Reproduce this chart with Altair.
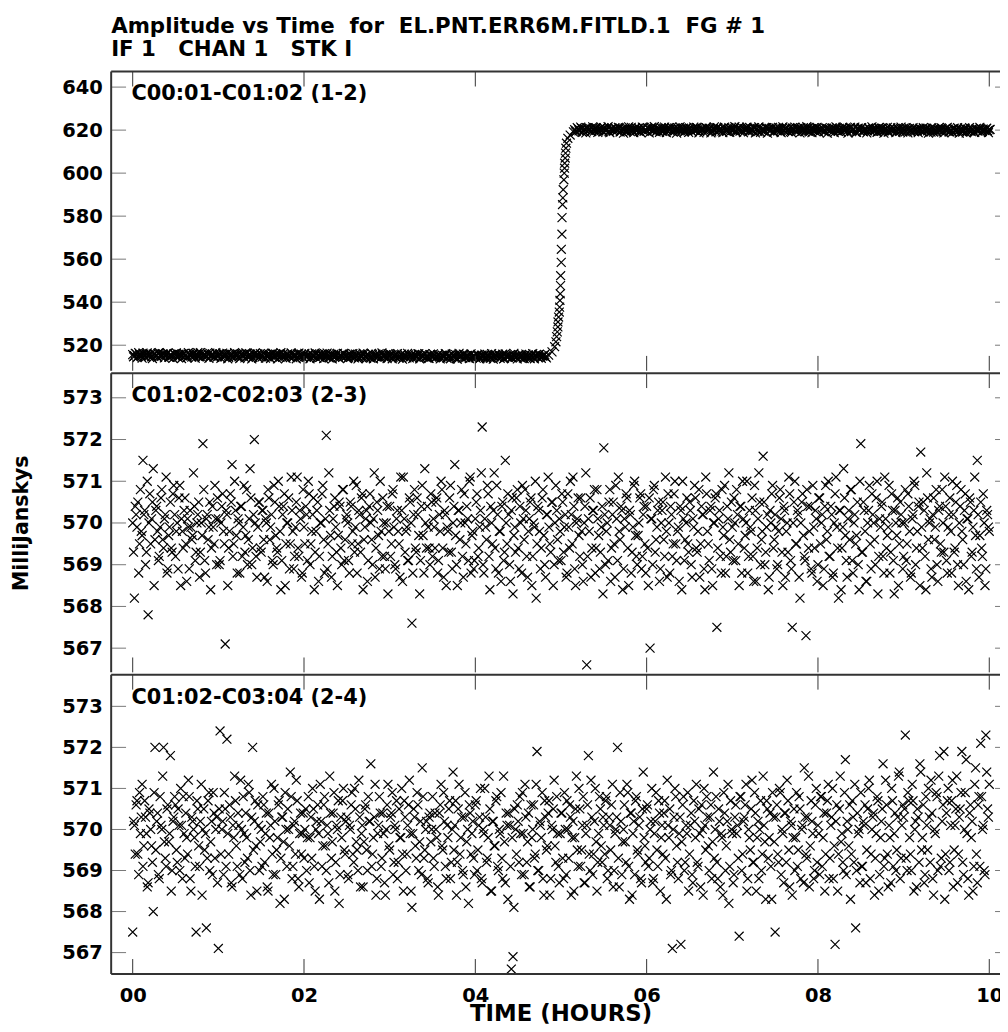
import altair as alt
import pandas as pd

# ---------------- data ----------------
STEP_H = 0.02          # sampling interval of each listed series, hours
OFFSET_B = 0.01        # second interleaved series starts half a step later

# Panel 1: C00:01-C01:02 (1-2)  -- amplitude step near 5 h
P1_PRE_BASE = 515.0    # mJy ; deviations below are in 0.1 mJy
P1_PRE_DEV = [
    6, 1, 10, -3, 8, 4, 13, -1, 7, 2, 11, -4, 5, 9, 0, 14, 3, -2, 8, 5, 12, -5, 6, 1, 10,
    3, -3, 9, 6, 0, 12, 4, -6, 8, 2, 11, -1, 5, 15, -4, 7, 1, 9, -2, 6, 13, 0, 4, -5, 8,
    2, 10, -3, 6, 1, 12, -6, 4, 8, -1, 11, 3, -4, 7, 0, 9, 14, -2, 5, 1, -7, 8, 3, 10, -3,
    5, -1, 9, 2, -5, 7, 0, 12, -3, 4, 8, -6, 1, 11, -2, 6, 3, -8, 9, 0, 4, -4, 13, 2, -1,
    6, -3, 1, 10, -6, 4, -1, 8, 2, -7, 5, 0, 11, -4, 3, -9, 7, 1, -2, 9, -5, 4, 0, 12, -3,
    2, -6, 7, 0, -4, 9, 1, -8, 4, -2, 10, -5, 3, 0, -10, 6, -1, 8, -4, 2, -7, 5, 0, -3, 11,
    -2, 4, -7, 1, 6, -5, 0, 9, -3, 2, -9, 5, -1, 7, -6, 3, -2, 10, -8, 0, 4, -4, 1, -11, 6,
    -3, 2, -6, 5, 0, -9, 3, -2, 8, -5, 1, -7, 4, -1, -12, 6, -4, 2, 9, -6, 0, -3, 5, -8, 1,
    -5, 3, -1, -9, 4, 0, -6, 7, -3, -11, 2, -4, 6, -7, 1, -2, 8, -10, 0, -5, 3, -8, 5, -1,
    -6, 2, -3, 7, -9, 0, -4, 4, -12, 1, -7, 3, -2, 6, -5, -1, 2, -4,
]
P1_PRE_DEV_B = [
    -4, 12, -8, 15, 2, -10, 9, -5, 14, -2, 7, -12, 11, 3, -7, 16, -1, 10, -9, 6, 13, -6, 4, -11, 9,
    14, -7, 5, -12, 11, 0, -9, 15, 3, -5, 12, -10, 8, -3, 16, -8, 6, -1, 13, -11, 2, 10, -6, 15, -4,
    9, -11, 13, -4, 6, -13, 10, 1, -8, 15, -2, 7, -12, 11, 4, -9, 12, -6, 8, -14, 5, 14, -3, -10, 11,
    -5, 13, -10, 7, 2, -12, 12, -3, 9, -14, 6, 15, -7, 3, -11, 10, -1, 14, -8, 5, -13, 11, -4, 8, -9,
    12, -6, 4, -13, 10, -2, 14, -10, 6, -5, 11, -12, 1, 13, -8, 7, -14, 9, -3, 12, -11, 3, -7, 10, -1,
    -12, 8, -4, 11, -9, 3, -14, 10, -6, 13, -2, -11, 7, -8, 12, -13, 4, -5, 9, -10, 14, -3, 6, -12, 1,
    8, -13, 3, -7, 11, -10, 5, -15, 9, -4, 12, -9, 1, -12, 7, -6, 10, -14, 4, -1, 11, -8, -11, 6, -5,
    10, -9, -3, 8, -14, 4, -7, 11, -11, 2, -13, 9, -5, 6, -15, 12, -2, -10, 7, -8, 3, -12, 10, -6, 1,
    -10, 7, -14, 3, -5, 9, -12, 1, -8, 11, -15, 5, -3, 8, -11, 2, -13, 10, -6, -1, 6, -9, 12, -4,
    -14, 6, -8, 3, -12, 9, -5, -10, 2, 11, -13, 5, -7, 8, -11, 0, 7, -9,
]
P1_TRANS_T = [4.856, 4.895, 4.926, 4.941, 4.949, 4.957, 4.964, 4.965, 4.972, 4.980,
              4.984, 4.988, 4.991, 4.995, 4.996, 5.003, 5.004, 5.011, 5.012, 5.018,
              5.022, 5.026, 5.034, 5.038, 5.042, 5.043, 5.049, 5.053, 5.057, 5.064,
              5.080, 5.107, 5.145]
P1_TRANS_V = [515.4, 516.9, 519.3, 521.6, 524.0, 526.2, 528.5, 530.8, 533.1, 535.4,
              537.7, 540.8, 543.9, 547.7, 552.3, 558.5, 564.6, 571.6, 579.3, 585.4,
              588.5, 592.3, 596.9, 600.0, 602.3, 604.6, 607.0, 609.3, 611.6, 613.9,
              616.2, 617.7, 619.2]
P1_POST_START = 5.16
P1_POST_BASE = 620.0
P1_POST_DEV = [
    2, -5, 6, 0, 9, -3, 4, 11, -1, 7, -6, 3, 10, 1, -4, 8, 0, 12, -2, 5, -7, 3, 9, -1, 6,
    0, 10, -4, 5, 2, -8, 7, 1, 13, -3, 4, -1, 9, -6, 3, 11, 0, -5, 7, 2, 14, -2, 5, -4, 8,
    1, -6, 9, 3, -2, 11, 4, -5, 7, 0, 12, -3, 6, 2, -9, 8, 1, 10, -4, 5, -1, 13, 3, -7, 6,
    4, -3, 10, 0, 7, -8, 5, 2, 12, -2, 6, -5, 9, 1, -4, 11, 3, -1, 8, -6, 4, 14, 0, -3, 7,
    2, 9, -5, 5, -1, 12, 3, -7, 8, 0, 6, -3, 11, 4, -2, 9, -9, 5, 1, 13, -4, 6, 0, 8, -2,
    5, -6, 10, 2, -3, 7, 0, 12, -5, 4, 1, 9, -8, 6, 3, -2, 11, -4, 7, 0, 5, -7, 9, 2, -1,
    8, -3, 4, 11, -6, 2, 6, -1, 10, -4, 3, 13, -2, 5, -8, 7, 0, 9, -5, 3, 1, -3, 8, -6, 4,
    -1, 6, -7, 3, 9, -4, 1, 7, -9, 4, -2, 10, 0, -5, 6, -3, 2, 8, -8, 1, 5, -6, 3, -2, 7,
    -4, 2, 6, -7, 0, 9, -3, 4, -9, 1, 7, -5, 2, -1, 10, -6, 3, -3, 5, -8, 0, 6, -4, 1, -2,
    4, -7, 2, 8, -5, 0, -2, 6, -9, 3, -4, 1, 7, -6, 0, 5, -3, 2,
]
P1_POST_DEV_B = [
    -8, 12, -3, 14, -10, 6, -13, 9, 2, -7, 15, -5, 11, -11, 4, 13, -9, 7, -2, 16, -12, 8, -6, 11, -1,
    13, -9, 5, -14, 10, -4, 15, -7, 3, -12, 12, -2, 8, -11, 14, -6, 1, 11, -13, 9, -3, 16, -8, 6, -10,
    11, -5, 14, -12, 7, -1, 13, -9, 10, -14, 4, 15, -7, 9, -3, 12, -11, 6, -8, 14, -2, 10, -13, 5, 8,
    -11, 13, -4, 9, -13, 6, 15, -8, 11, -2, 7, -12, 14, -6, 3, -10, 12, -1, 16, -9, 8, -5, 13, -12, 4,
    14, -8, 9, -3, 12, -13, 6, 15, -10, 3, -6, 11, -14, 8, -1, 13, -9, 10, -4, 7, -12, 15, -2, 9, -7,
    12, -11, 5, 14, -6, 9, -13, 3, 11, -8, 16, -3, 7, -12, 10, -5, 13, -10, 2, 12, -7, 8, -14, 6, -1,
    10, -12, 15, -4, 8, -9, 13, -2, 6, -14, 11, -7, 4, 14, -11, 9, -3, 12, -8, 5, -13, 10, -1, 15, -6,
    7, -10, 12, -5, 9, -14, 4, 13, -8, 11, -3, 6, -12, 10, -6, 14, -9, 2, 11, -13, 8, -4, 12, -7, 3,
    -12, 9, -6, 11, -2, 8, -14, 5, 12, -9, 3, -11, 10, -4, 7, -13, 6, 13, -8, 1, -10, 9, -5, 11, -14,
    6, -9, 10, -13, 4, 12, -7, 2, -11, 8, -4, 13, -10, 5, -2, 9, -12, 3,
]

# Panel 2: C01:02-C02:03 (2-3)
MID_BASE = 569.7       # mJy ; deviations in 0.1 mJy
MID_DEV = [
    3, -15, 5, 8, -2, 1, 18, 6, -4, -19, 10, 4, 16, -1, 7, -6, 2, 11, -3, 5, -9, 0, 8, -4, 12,
    -5, 3, 9, -12, 1, 6, -2, 4, -8, 2, 0, 7, -4, 5, -10, 3, 22, -6, 4, -1, 8, -3, 2, 12, -7,
    4, -6, 7, 1, -26, 5, -3, 10, 17, -2, 6, -9, 3, 7, -5, 12, 0, -7, 4, 9, -3, 23, -5, 2, 8,
    -4, 6, -10, 3, 11, -1, 5, -7, 8, -3, 13, 1, -6, 7, -12, 3, 9, -2, 6, -8, 2, 14, -5, 4, -9,
    2, 7, -6, 10, -2, 5, -13, 1, 8, -5, 3, 12, -9, 24, -2, 6, -10, 4, 9, -4, 0, 7, -7, 11, -1,
    5, -6, 8, -2, 13, 2, -9, 6, -4, 10, -1, 4, -11, 7, 3, -7, 15, -3, 6, -8, 1, 9, -5, 3, -14,
    7, -2, 11, -7, 4, 1, -10, 6, 14, -4, 2, -6, 8, -21, 5, -3, 9, 0, -6, 12, -9, 3, 7, -3, 10,
    -5, 2, 8, -9, 5, 13, -3, 6, -12, 1, 9, -4, 3, 17, -7, 6, -1, 11, -10, 3, 7, -6, 14, 0, -8,
    4, 10, -3, 6, 26, -9, 2, 12, -5, 7, -2, 15, -8, 5, 1, -11, 8, -4, 3, 10, -7, 6, -14, 2, 9,
    -3, 7, -9, 4, 11, -5, 1, 8, -12, 3, 13, -2, 6, -8, 9, 0, -10, 5, 2, -4, 8, -7, 12, -1, 4,
    -6, 8, 2, -10, 10, -3, 5, 14, -8, 3, 9, -5, 1, -11, 7, -31, 4, 9, -3, 6, -9, 11, 0, -4, 7,
    21, -7, 3, 8, -11, 5, -2, 12, -6, 1, 7, -13, 4, 10, -3, 6, -9, 2, 13, -5, 0, 9, -8, 5, -2,
    7, -12, -27, 4, 11, -4, 2, 8, -8, 6, -1, 14, -10, 3, 7, -5, 10, -2, 1, -11, 6, 13, -6, 3, -2,
    8, -7, 4, 12, -3, 1, -10, 7, 5, -13, 10, -2, 6, -8, 3, 9, -22, 4, -5, 11, 0, -9, 7, 15, -4,
    2, 9, -6, 5, -12, 7, 13, -3, 3, -9, 6, 1, -5, 12, -11, 4, 8, -1, 19, -7, 2, -13, 6, 10, -3,
    5, -8, 1, 11, -4, 7, -10, 3, 14, -6, -22, 8, -2, 6, -10, 3, 10, -5, -24, 7, 1, -8, 12, -3, 4,
    -7, 9, 3, -12, 7, -1, 13, -5, 5, -9, 10, 2, -15, 6, -3, 16, 0, -10, 6, 11, -6, 3, -2, 8, -13,
    22, -4, 6, -11, 3, 12, -8, 5, -1, 9, -14, 4, 7, -5, 14, -3, 2, -9, 10, -6, 6, 0, -12, 8, 3,
    -5, 11, -2, 7, -10, 4, 13, -7, 1, 8, 20, -3, 6, -13, 9, 3, -8, 5, -1, 11, -11, 7, -4, 3, 14,
    -6, 2, 9, -9, 5, -3, 12, -12, 7, 1, -7, 10, 4, -13, 8, -4, 6, 0, 18, -10, 8, -5, 3, -8, 5,
    1,
]
MID_DEV_B = [
    -4, 7, 2, -9, 11, 0, 5, -7, 13, 3, -2, 8, -12, 6, 1, -5, 9, -1, 4, 14, -8, 2, -3, 10, 5,
    1, -8, 12, 4, -3, 9, -11, 2, 6, -1, 15, -6, 3, 8, -4, 0, 11, -9, 5, 2, -13, 7, -2, 4, 9,
    -7, 3, 10, -2, 6, -12, 1, 8, -5, 13, 0, 4, -9, 7, 2, -4, 11, -1, 16, -7, 5, 3, -10, 8, -3,
    6, -1, 4, -11, 9, 2, -6, 12, 0, -4, 7, -13, 5, 10, -2, 3, -8, 14, 1, -5, 8, -3, 6, -10, 11,
    -2, 5, 13, -7, 1, 9, -4, 6, -11, 3, 10, -1, 4, -8, 15, 0, -5, 7, 2, -12, 8, -3, 11, -6, 4,
    3, -9, 7, 1, -4, 12, -2, 5, 9, -13, 2, 6, -6, 10, -1, 4, -10, 8, 0, 13, -5, 3, -8, 7, 1,
    -5, 10, 2, -8, 6, -2, 14, -11, 4, 1, -6, 9, 3, -9, 11, -4, 5, -14, 7, 0, 16, -3, 2, -7, 8,
    4, -3, 9, -6, 1, 11, -10, 5, 2, -4, 12, -8, 7, 0, -12, 6, 3, -5, 10, -2, 4, 13, -9, 1, -6,
    8, -5, 2, 15, -7, 4, -1, 10, -13, 3, 6, -3, 12, -9, 1, 7, -6, 18, -2, 5, -11, 9, 0, -4, 11,
    -8, 3, 12, -1, 6, -10, 4, 9, -5, 2, -15, 7, 1, -3, 11, -7, 5, 14, -2, 8, -12, 3, 6, -6, 1,
    10, -4, 5, -9, 2, 13, -2, 7, -12, 4, 0, 9, -7, 3, 15, -5, 1, -10, 6, 11, -3, 4, -8, 2, -14,
    5, 1, -6, 11, -3, 8, -10, 4, 14, -1, 6, -8, 2, 9, -12, 5, -4, 12, 0, -7, 3, 10, -5, 7, -9,
    -3, 9, 4, -7, 12, -1, 6, -11, 3, 8, -5, 1, 10, -9, 5, -2, 13, -6, 2, 7, -13, 4, -1, 9, -4,
    6, -10, 2, 9, -4, 11, -2, 5, -8, 14, 1, -6, 7, -12, 3, 10, -3, 6, -9, 2, 12, -5, 4, -1, 8,
    -6, 3, 11, -2, 7, -9, 4, 0, 13, -5, 2, 9, -11, 6, -3, 15, -7, 1, 8, -4, 5, -10, 3, 12, -1,
    2, -7, 9, 4, -12, 6, 1, -4, 10, -8, 3, 13, -2, 5, -15, 8, 0, -6, 11, -3, 7, -9, 2, 6, -11,
    9, -2, 5, -8, 12, 1, -5, 7, -10, 3, 14, -3, 6, -13, 2, 9, -6, 4, -1, 11, -9, 5, 0, -7, 13,
    -4, 8, 1, -11, 6, -2, 10, 3, -7, 13, -5, 2, 8, -9, 4, 0, 12, -4, 6, -14, 3, 9, -2, 5, -8,
    3, -6, 10, 1, -9, 5, 12, -3, 7, -12, 2, 8, -5, 15, -1, 4, -10, 9, 2, -7, 6, -2, 11, -4, 7,
    -9, 5, 1, 13, -4, 8, -7, 3, 11, -1, 6, -11, 4, 9, -5, 2, 14, -8, 5, 0, -3, 10, -12, 6, 2,
]

# Panel 3: C01:02-C03:04 (2-4)
BOT_BASE = 569.7       # mJy ; deviations in 0.1 mJy
BOT_DEV = [
    -22, 4, 9, -3, 12, 6, -6, 10, 2, -10, 7, -1, -17, 23, 5, -8, 11, 3, 23, -4, 8, 0, 21, -7, 6,
    9, -5, 4, 13, -9, 2, 7, -3, 11, -12, 5, 1, -22, 8, -6, 14, 3, -2, -21, 10, -7, 5, 12, -4, 6,
    -26, 27, 3, -8, 8, 25, -3, 6, -11, 1, 10, -6, 4, 15, -9, 2, 7, -4, 12, -13, 23, 5, -1, 9, -7,
    3, 11, -5, 7, -12, 1, 14, -8, 5, -2, 9, -15, 6, 0, 12, -6, 3, 17, -9, 4, -3, 10, -11, 7, 2,
    -4, 8, 1, -10, 6, 13, -6, 3, 9, -14, 5, -1, 11, -7, 2, 16, -4, 7, -12, 4, 10, -8, 1, 13, -3,
    6, -9, 3, 12, -5, 8, -2, 15, -11, 4, 0, 9, -7, 5, 19, -3, 6, -13, 2, 11, -6, 7, -10, 3, 14,
    -2, 7, -8, 4, 10, -5, 1, 13, -12, 6, -3, 9, 2, -16, 8, -1, 12, -7, 5, 18, -4, 3, -9, 6, 0,
    11, -6, 3, -11, 7, 14, -2, 5, -9, 1, 10, -5, 17, 4, -13, 8, -3, 6, -8, 12, 0, -15, 7, 2, -4,
    9, -7, 4, 13, -10, 2, 6, -4, 16, -12, 5, -1, 10, -6, 3, 12, -9, 0, 7, -14, 4, -31, -28, 8, -3,
    5, 11, -8, 2, 14, -5, 7, -11, 1, 9, -3, 22, -7, 4, 12, -13, 6, -1, 10, -9, 3, 15, -5, 2, -10,
    7, -4, 12, -8, 3, 9, -13, 5, 1, 16, -6, 8, -2, 11, -10, 4, 21, -7, 6, -3, 13, -12, 2, 8, -5,
    4, 10, -9, 6, -2, 14, -7, 3, 23, -11, 5, 0, 9, -5, 12, -14, 7, 2, -8, 11, -3, 6, -10, 17, -1,
    8, -6, 3, 13, -9, 5, -2, 10, -12, 4, 7, -4, 15, 1, -8, -26, 6, 11, -5, 2, -25, 9, -7, 4, 12,
    -3, 7, -10, 5, 14, -6, 2, 9, -13, 4, 11, -1, 6, -9, 17, 3, -5, 8, -11, 1, 12, -7, 5, -15, 10,
    2, -8, 9, 4, -23, 11, -3, 6, 14, -9, 1, 8, -5, 12, -12, 5, 3, -7, 16, 0, 10, -4, 7, -14, 6,
    -22, 9, -5, 12, 3, -10, 7, 15, -2, 5, -13, 8, 1, -6, 11, -9, 4, 18, -3, 6, -11, 10, 2, -7, 13,
    4, -8, 11, 1, -12, 7, 14, -4, 6, -9, -25, 9, -3, 16, 2, -7, 20, 5, -1, -14, 10, -5, -21, 7, 3,
    12, -6, 4, -10, 8, 15, -3, 6, -13, 2, 10, -8, 5, 19, -4, 9, -11, 1, 13, -6, 7, -2, 16, -9, 4,
    6, 26, -7, 10, -3, 14, -12, 5, 8, -5, 17, 1, -10, 11, -2, 6, 15, -9, 3, 12, -7, 21, -4, 9, -14,
    7, 13, -5, 10, -11, 4, 16, -3, 8, 22, -8, 12, 2, -13, 9, 5, -6, 18, -10, 11, 24, 3, -7, 26, 8,
    14,
]
BOT_DEV_B = [
    5, -3, 10, -8, 2, 14, -1, 6, -11, 8, 3, -5, 12, -2, 7, -9, 4, 16, 0, -6, 9, 2, -12, 5, 11,
    -2, 8, -7, 4, 11, -4, 1, 15, -9, 6, 3, -6, 10, -1, 5, -13, 8, 2, -4, 12, 0, -8, 7, 3, -10,
    8, -3, 5, 12, -6, 2, 9, -10, 4, 16, -1, 7, -8, 3, 11, -5, 1, 14, -7, 6, -2, 10, -12, 4, 0,
    -6, 9, 2, -11, 7, 4, -3, 13, -8, 1, 10, -4, 6, -14, 3, 8, -1, 11, -6, 5, 15, -9, 2, -3, 7,
    3, -7, 11, 1, -4, 8, -12, 5, 2, 14, -6, 9, -1, 4, -10, 7, 0, 12, -5, 3, -15, 6, 10, -2, 5,
    -8, 4, 9, -3, 13, 0, -7, 6, 2, -11, 8, -2, 11, 5, -6, 1, 14, -9, 4, 7, -4, 2, -13, 9, -1,
    6, 12, -5, 3, -9, 8, 1, -3, 10, -7, 4, 15, -12, 2, 6, -4, 9, 0, -8, 11, -2, 5, -10, 7, 3,
    -4, 7, 1, -13, 9, -1, 12, -6, 4, 8, -9, 3, -2, 10, -5, 14, 1, -7, 6, -11, 3, 9, -3, 5, -8,
    10, -2, 6, -9, 3, 13, -5, 1, 8, -12, 5, -1, 11, -7, 2, -4, 16, -10, 4, 7, -6, 1, -16, 3, 9,
    -5, 2, 12, -8, 6, 0, -11, 9, 3, -4, 14, -7, 5, 1, -9, 10, -2, 7, -13, 4, 8, -1, 11, -6, 2,
    7, -9, 3, 10, -4, 6, 1, -12, 8, -2, 13, -6, 4, -10, 2, 9, -3, 15, -8, 5, 0, -5, 11, -1, 6,
    -3, 11, -7, 4, 9, -11, 2, 6, -4, 12, -8, 3, 0, 14, -6, 7, -13, 5, 10, -2, 4, -9, 8, 1, -5,
    9, -4, 5, -10, 2, 12, -6, 7, 1, -3, 10, -14, 4, 8, -7, 3, 13, -1, -9, 6, 0, 11, -5, 2, -12,
    4, -8, 10, 1, -5, 8, -11, 3, 13, -2, 6, -7, 9, 0, -4, 11, -9, 5, 2, -13, 7, -1, 14, -6, 3,
    -10, 6, 2, -4, 11, -7, 5, 9, -12, 3, -2, 15, -5, 7, 1, -9, 10, -3, 4, -14, 8, 1, -6, 12, 0,
    6, -3, 13, -8, 2, 7, -5, 10, -11, 4, 1, -7, 12, -2, 8, 3, -10, 6, -4, 16, -1, 5, -9, 9, -5,
    2, 11, -6, 7, -3, 10, -9, 4, 13, -1, 5, -12, 8, 0, -5, 12, -8, 3, 9, -3, 6, 14, -7, 2, -10,
    -6, 5, 9, -2, 13, -9, 3, 7, -4, 11, -12, 1, 8, -6, 15, -3, 4, -10, 10, 2, -7, 6, 17, -4, 9,
    8, -4, 12, 1, -7, 10, 3, -11, 6, 19, -2, 9, -8, 4, 13, -5, 7, -13, 2, 11, 16, -6, 5, 22, -3,
    10, -7, 4, 15, -2, 8, -10, 6, 12, -5, 3, 20, -9, 7, 1, -12, 14, -3, 9, -6, 11, 4, -8, 17, 6,
]

PANEL_LABELS = ["C00:01-C01:02 (1-2)", "C01:02-C02:03 (2-3)", "C01:02-C03:04 (2-4)"]
Y_TICKS = [[520, 540, 560, 580, 600, 620, 640],
           [567, 568, 569, 570, 571, 572, 573],
           [567, 568, 569, 570, 571, 572, 573]]
Y_DOMAINS = [[508.1, 647.2], [566.42, 573.59], [566.48, 573.77]]
X_TICKS = [0, 2, 4, 6, 8, 10]
X_DOMAIN = [-0.2513, 10.241]
TITLE_LINES = ["Amplitude vs Time\u00a0\u00a0for\u00a0\u00a0EL.PNT.ERR6M.FITLD.1\u00a0\u00a0FG # 1",
               "IF 1\u00a0\u00a0\u00a0CHAN 1\u00a0\u00a0\u00a0STK I"]

# ---------------- build tables ----------------
def series(start, base, devs):
    return pd.DataFrame({"t": [start + i * STEP_H for i in range(len(devs))],
                         "amp": [base + d / 10.0 for d in devs]})

df1 = pd.concat([series(0.0, P1_PRE_BASE, P1_PRE_DEV),
                 series(OFFSET_B, P1_PRE_BASE, P1_PRE_DEV_B),
                 pd.DataFrame({"t": P1_TRANS_T, "amp": P1_TRANS_V}),
                 series(P1_POST_START, P1_POST_BASE, P1_POST_DEV),
                 series(P1_POST_START + OFFSET_B, P1_POST_BASE, P1_POST_DEV_B)],
                ignore_index=True)
df2 = pd.concat([series(0.0, MID_BASE, MID_DEV),
                 series(OFFSET_B, MID_BASE, MID_DEV_B)], ignore_index=True)
df3 = pd.concat([series(0.0, BOT_BASE, BOT_DEV),
                 series(OFFSET_B, BOT_BASE, BOT_DEV_B)], ignore_index=True)

# ---------------- styling ----------------
W, H = 906, 301.6
TICK = 15
FONT = "DejaVu Sans"
FRAME = "#333"
XMARK = "M-1,-1L1,1M-1,1L1,-1"
ONE = pd.DataFrame({"k": [0]})


def panel(df, i, show_x):
    xs = alt.Scale(domain=X_DOMAIN, nice=False, zero=False)
    ys = alt.Scale(domain=Y_DOMAINS[i], nice=False, zero=False)
    yaxis = alt.Axis(values=Y_TICKS[i], format="d", title="MilliJanskys",
                     titleOpacity=1 if i == 1 else 0,
                     domain=False, ticks=False, tickSize=0, grid=False,
                     labelFont=FONT, labelFontSize=19.6, labelFontWeight="bold",
                     labelColor="black", labelPadding=9,
                     titleFont=FONT, titleFontSize=20.6, titleFontWeight="bold",
                     titleColor="black", titlePadding=30)
    if show_x:
        xaxis = alt.Axis(values=X_TICKS, format="02d", title="TIME (HOURS)",
                         domain=False, ticks=False, tickSize=0, grid=False,
                         labelFont=FONT, labelFontSize=19.6, labelFontWeight="bold",
                         labelColor="black", labelPadding=13, labelFlush=False,
                         labelOverlap=False,
                         titleFont=FONT, titleFontSize=23, titleFontWeight="bold",
                         titleColor="black", titleBaseline="alphabetic", titleY=47.2)
    else:
        xaxis = None
    X = alt.X("t:Q", scale=xs, axis=xaxis)
    Y = alt.Y("amp:Q", scale=ys, axis=yaxis)
    pts = alt.Chart(df).mark_point(shape=XMARK, size=81, filled=False, color="black",
                                   strokeWidth=1.2, opacity=1, clip=True).encode(x=X, y=Y)
    yt = pd.DataFrame({"amp": Y_TICKS[i]})
    xt = pd.DataFrame({"t": X_TICKS})
    lt = alt.Chart(yt).mark_rule(color="#777", strokeWidth=1).encode(
        y=Y, x=alt.value(0), x2=alt.value(TICK))
    rt = alt.Chart(yt).mark_rule(color="#777", strokeWidth=1).encode(
        y=Y, x=alt.value(W - TICK), x2=alt.value(W))
    tt = alt.Chart(xt).mark_rule(color="#333", strokeWidth=1).encode(
        x=X, y=alt.value(0), y2=alt.value(TICK))
    bt = alt.Chart(xt).mark_rule(color="#333", strokeWidth=1).encode(
        x=X, y=alt.value(H - TICK), y2=alt.value(H))
    # frame: each panel draws its top, left and right edges; only the last one
    # draws the bottom, so the shared edges between panels are single lines
    frame = [
        alt.Chart(ONE).mark_rule(color=FRAME, strokeWidth=2).encode(
            x=alt.value(0), x2=alt.value(W), y=alt.value(0)),
        alt.Chart(ONE).mark_rule(color=FRAME, strokeWidth=2).encode(
            x=alt.value(0), y=alt.value(0), y2=alt.value(H)),
        alt.Chart(ONE).mark_rule(color=FRAME, strokeWidth=2).encode(
            x=alt.value(W), y=alt.value(0), y2=alt.value(H)),
    ]
    if show_x:
        frame.append(alt.Chart(ONE).mark_rule(color=FRAME, strokeWidth=2).encode(
            x=alt.value(0), x2=alt.value(W), y=alt.value(H)))
    lab = alt.Chart(pd.DataFrame({"label": [PANEL_LABELS[i]]})).mark_text(
        font=FONT, fontSize=21, fontWeight="bold", color="black",
        align="left", baseline="alphabetic").encode(
        text="label:N", x=alt.value(20.5), y=alt.value(29))
    return alt.layer(pts, lt, rt, tt, bt, *frame, lab).properties(width=W, height=H)


p1 = panel(df1, 0, False).properties(
    title=alt.TitleParams(text=TITLE_LINES, anchor="start", frame="group",
                          font=FONT, fontSize=21.5, fontWeight="bold", color="black",
                          lineHeight=23.3, offset=10))
p2 = panel(df2, 1, False)
p3 = panel(df3, 2, True)

# the right frame of the reference lies just beyond the page edge: a negative right
# padding lets the SVG clip it there instead of widening the page
chart = alt.vconcat(p1, p2, p3, spacing=-2).properties(
    padding={"left": 3, "top": 3, "right": -12, "bottom": 0}
).configure_view(stroke="transparent")

chart.save("out.html", embed_options={"renderer": "svg", "actions": False})
